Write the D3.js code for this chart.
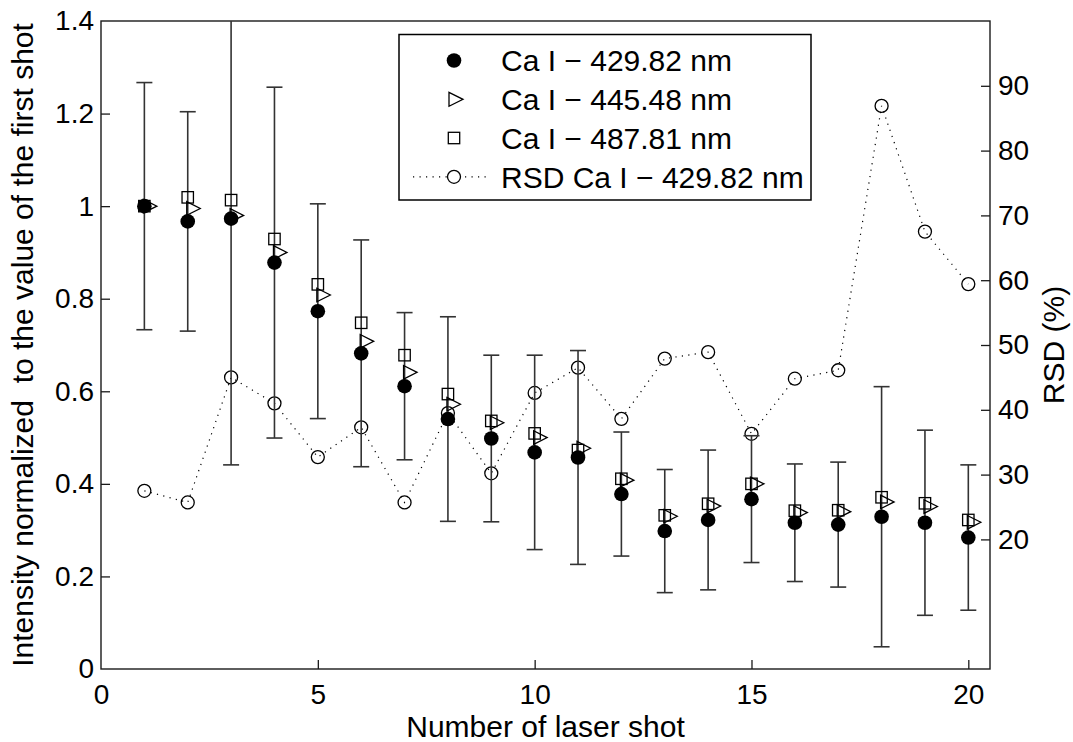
<!DOCTYPE html>
<html><head><meta charset="utf-8">
<script src="https://cdn.jsdelivr.net/npm/d3@7"></script>
<style>
body{margin:0;background:#fff}
text{font-family:"Liberation Sans",Arial,Helvetica,sans-serif;fill:#000;white-space:pre}
</style>
</head><body><svg id="c" width="1073" height="742"></svg>
<script>
// ---------- data ----------
const shots = [1,2,3,4,5,6,7,8,9,10,11,12,13,14,15,16,17,18,19,20];
const ca429 = [1.000,0.967,0.973,0.878,0.773,0.682,0.611,0.540,0.498,0.468,0.457,0.378,0.298,0.322,0.367,0.316,0.312,0.329,0.316,0.284];
const ca429Err = [0.267,0.237,0.532,0.379,0.232,0.245,0.159,0.221,0.180,0.210,0.231,0.134,0.133,0.151,0.137,0.127,0.135,0.281,0.200,0.157];
const ca445 = [1.000,0.995,0.980,0.900,0.808,0.708,0.641,0.572,0.532,0.500,0.477,0.408,0.330,0.352,0.400,0.338,0.340,0.361,0.351,0.317];
const ca487 = [1.000,1.019,1.013,0.929,0.831,0.748,0.678,0.594,0.536,0.509,0.473,0.411,0.332,0.357,0.400,0.342,0.343,0.371,0.358,0.322];
const rsd429 = [27.5,25.7,45.0,41.0,32.7,37.3,25.7,39.5,30.2,42.6,46.5,38.6,47.9,48.9,36.3,44.8,46.1,86.9,67.5,59.4];
const seriesNames = ["Ca I \u2212 429.82 nm","Ca I \u2212 445.48 nm","Ca I \u2212 487.81 nm","RSD Ca I \u2212 429.82 nm"];
const xTicks = [0,5,10,15,20];
const yTicks = [0,0.2,0.4,0.6,0.8,1,1.2,1.4];
const rsdTicks = [20,30,40,50,60,70,80,90];
const xLabel = "Number of laser shot";
const yLabel = "Intensity normalized  to the value of the first shot";
const y2Label = "RSD (%)";

// ---------- layout ----------
const L = 101, T = 21, R = 990, B = 669;
const svg = d3.select("#c");
const x = d3.scaleLinear().domain([0, 20.5]).range([L, R]);
const y = d3.scaleLinear().domain([0, 1.4]).range([B, T]);
const y2 = d3.scaleLinear().domain([0, 100]).range([B, T]);
const axisColor = "#1a1a1a";
const tickFont = 28, labelFont = 30, legendFont = 30;
const triShift = 4;

svg.append("defs").append("clipPath").attr("id","clip")
  .append("rect").attr("x",L).attr("y",T).attr("width",R-L).attr("height",B-T);

// axes
const gx = svg.append("g").attr("transform",`translate(0,${B})`)
  .call(d3.axisBottom(x).tickValues(xTicks).tickSizeInner(-9).tickSizeOuter(0).tickPadding(15).tickFormat(d3.format("d")));
const gy = svg.append("g").attr("transform",`translate(${L},0)`)
  .call(d3.axisLeft(y).tickValues(yTicks).tickSizeInner(-9).tickSizeOuter(0).tickPadding(7).tickFormat(d => String(+d.toFixed(1))));
const gy2 = svg.append("g").attr("transform",`translate(${R},0)`)
  .call(d3.axisRight(y2).tickValues(rsdTicks).tickSizeInner(-9).tickSizeOuter(0).tickPadding(8).tickFormat(d3.format("d")));
[gx,gy,gy2].forEach(g => {
  g.select(".domain").remove();
  g.selectAll(".tick line").attr("stroke",axisColor).attr("stroke-width",1.3);
  g.selectAll(".tick text").attr("font-size",tickFont).attr("fill","#000")
    .style("font-family","'Liberation Sans',Arial,sans-serif");
});
gx.selectAll(".tick").filter(d => d === 0).select("line").remove();
gy.selectAll(".tick").filter(d => d === 0 || d === 1.4).select("line").remove();

svg.append("rect").attr("x",L).attr("y",T).attr("width",R-L).attr("height",B-T)
  .attr("fill","none").attr("stroke",axisColor).attr("stroke-width",1.4);

// axis labels
svg.append("text").attr("x",(L+R)/2).attr("y",737).attr("text-anchor","middle")
  .attr("font-size",labelFont).text(xLabel);
svg.append("text").attr("transform",`translate(33,${(T+B)/2}) rotate(-90)`).attr("text-anchor","middle")
  .attr("font-size",labelFont).text(yLabel);
svg.append("text").attr("transform",`translate(1064,${(T+B)/2}) rotate(-90)`).attr("text-anchor","middle")
  .attr("font-size",labelFont).text(y2Label);

const plot = svg.append("g").attr("clip-path","url(#clip)");

// RSD dotted line + open circles
plot.append("path").datum(shots.map((s,i)=>[s,rsd429[i]]))
  .attr("d", d3.line().x(d=>x(d[0])).y(d=>y2(d[1])))
  .attr("fill","none").attr("stroke","#000").attr("stroke-width",1.2)
  .attr("stroke-dasharray","1.2,5.3");
plot.selectAll(".rsd").data(shots).join("circle")
  .attr("cx",d=>x(d)).attr("cy",(d,i)=>y2(rsd429[i])).attr("r",6.5)
  .attr("fill","none").attr("stroke","#000").attr("stroke-width",1.3);

// error bars
const eb = plot.append("g").attr("stroke","#333").attr("stroke-width",1.6).attr("fill","none");
shots.forEach((s,i) => {
  const lo = y(ca429[i]-ca429Err[i]), hi = y(ca429[i]+ca429Err[i]), cx = x(s);
  eb.append("line").attr("x1",cx).attr("x2",cx).attr("y1",lo).attr("y2",hi);
  eb.append("line").attr("x1",cx-8).attr("x2",cx+8).attr("y1",lo).attr("y2",lo);
  eb.append("line").attr("x1",cx-8).attr("x2",cx+8).attr("y1",hi).attr("y2",hi);
});

// squares
plot.selectAll(".sq").data(shots).join("rect")
  .attr("x",d=>x(d)-5.7).attr("y",(d,i)=>y(ca487[i])-5.7).attr("width",11.4).attr("height",11.4)
  .attr("fill","none").attr("stroke","#000").attr("stroke-width",1.3);
// triangles
const triPath = "M-5,-6.8L8.5,0L-5,6.8Z";
plot.selectAll(".tri").data(shots).join("path")
  .attr("d",triPath).attr("transform",(d,i)=>`translate(${x(d)+triShift},${y(ca445[i])})`)
  .attr("fill","none").attr("stroke","#000").attr("stroke-width",1.3);
// filled circles
plot.selectAll(".fc").data(shots).join("circle")
  .attr("cx",d=>x(d)).attr("cy",(d,i)=>y(ca429[i])).attr("r",7.3).attr("fill","#000");

// legend
const lg = svg.append("g");
lg.append("rect").attr("x",399).attr("y",34.5).attr("width",412).attr("height",165.5)
  .attr("fill","#fff").attr("stroke","#000").attr("stroke-width",1.5);
const rowY = [60.5, 99.3, 138, 176.8];
const mx = 454, tx = 501;
lg.append("circle").attr("cx",mx).attr("cy",rowY[0]).attr("r",7.3).attr("fill","#000");
lg.append("path").attr("d","M-6,-7L8,0L-6,7Z").attr("transform",`translate(${mx+1},${rowY[1]})`)
  .attr("fill","none").attr("stroke","#000").attr("stroke-width",1.3);
lg.append("rect").attr("x",mx-5.7).attr("y",rowY[2]-5.7).attr("width",11.4).attr("height",11.4)
  .attr("fill","none").attr("stroke","#000").attr("stroke-width",1.3);
lg.append("line").attr("x1",413).attr("x2",490).attr("y1",rowY[3]).attr("y2",rowY[3])
  .attr("stroke","#000").attr("stroke-width",1.2).attr("stroke-dasharray","1.2,5.3");
lg.append("circle").attr("cx",mx).attr("cy",rowY[3]).attr("r",6.5).attr("fill","#fff")
  .attr("stroke","#000").attr("stroke-width",1.3);
seriesNames.forEach((n,i) => {
  lg.append("text").attr("x",tx).attr("y",rowY[i]+10.8).attr("font-size",legendFont).text(n);
});
</script>
</body></html>
